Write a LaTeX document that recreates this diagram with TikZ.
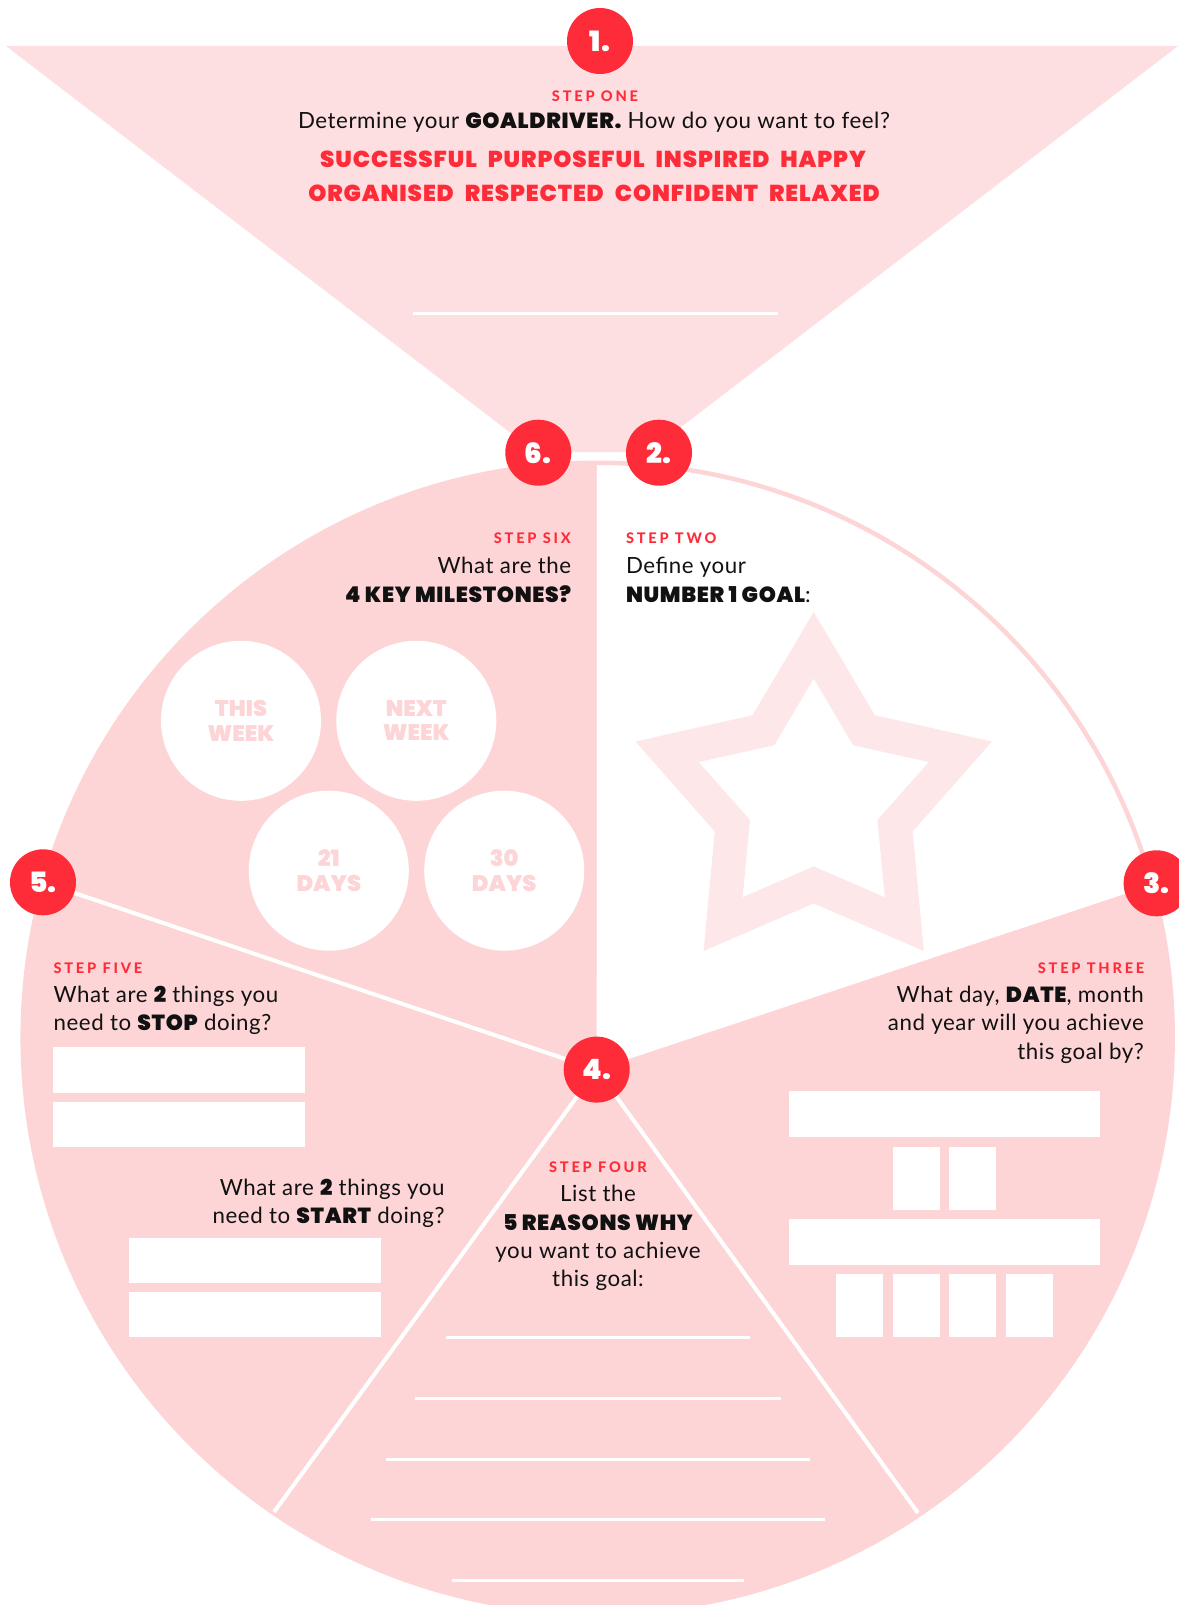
\documentclass[tikz,border=0pt]{standalone}
\usepackage{fontspec}
\setmainfont{Lato}[LetterSpace=2.5]
\IfFontExistsTF{Poppins Black}{\newfontfamily\heavy{Poppins Black}}{\IfFontExistsTF{Lato Black}{\newfontfamily\heavy{Lato Black}}{\newfontfamily\heavy{Lato}[FakeBold=2]}}
\IfFontExistsTF{Lato Heavy}{\newfontfamily\spaced{Lato Heavy}[LetterSpace=19]}{\IfFontExistsTF{Lato Bold}{\newfontfamily\spaced{Lato Bold}[LetterSpace=19]}{\newfontfamily\spaced{Lato}[LetterSpace=19,FakeBold=1]}}
\definecolor{redc}{RGB}{254,44,56}
\definecolor{pinkc}{RGB}{253,213,215}
\definecolor{tric}{RGB}{253,222,225}
\definecolor{starc}{RGB}{253,231,233}
\definecolor{inkc}{RGB}{17,17,17}
\newcommand{\hv}[1]{{\heavy\addfontfeatures{LetterSpace=3}\fontsize{21.8}{28.4}\selectfont #1}}
\begin{document}
\begin{tikzpicture}[x=1pt,y=-1pt,
  steplbl/.style={text=redc, font=\spaced\fontsize{14.6}{16}\selectfont, inner sep=0pt},
  body/.style={text=inkc, font=\fontsize{22.3}{28.4}\selectfont, inner sep=0pt},
  redwords/.style={text=redc, font=\heavy\addfontfeatures{LetterSpace=4}\fontsize{23}{24}\selectfont, inner sep=0pt},
  num/.style={circle, fill=redc, minimum size=66pt, inner sep=0pt, text=white, font=\heavy\fontsize{28}{28}\selectfont},
  mile/.style={circle, fill=white, minimum size=160pt, inner sep=0pt, text=pinkc, font=\heavy\fontsize{22.5}{24.3}\selectfont, align=center},
  wbox/.style={fill=white},
  wline/.style={draw=white, line width=4pt},
  rline/.style={draw=white, line width=3pt},
]
\useasboundingbox (0,0) rectangle (1178,1605);
\fill[white] (0,0) rectangle (1178,1605);

% key points
\coordinate (hub) at (596.7,1069.6);
\coordinate (cc) at (597.7,1037.8);
\coordinate (p1) at (600,41);
\coordinate (p2) at (659,452.7);
\coordinate (p3) at (1156.6,883.3);
\coordinate (p5) at (43,882.3);
\coordinate (p6) at (538.3,452.7);
\coordinate (b4l) at (274,1512);
\coordinate (b4r) at (918,1513);

% step one funnel
\fill[tric] (6,46) -- (1178,46) -- (648.5,452) -- (535.5,452) -- cycle;
\draw[rline] (412.5,313) -- (778,313);

% big circle
\fill[pinkc] (cc) circle[radius=575];
\begin{scope}
  \clip (cc) circle[radius=575];
  \fill[white] (hub) -- (597,380) -- (1250,380) -- (1250,852.2) -- cycle;
\end{scope}
\draw[pinkc, line width=4.5pt] (cc) circle[radius=575];

% star
\fill[starc, even odd rule]
  (813.7,799.4) +(270:187.3) -- +(306:104) -- +(342:187.3) -- +(18:104) -- +(54:187.3)
   -- +(90:104) -- +(126:187.3) -- +(162:104) -- +(198:187.3) -- +(234:104) -- cycle
  (813.7,799.4) +(270:121) -- +(306:67) -- +(342:121) -- +(18:67) -- +(54:121)
   -- +(90:67) -- +(126:121) -- +(162:67) -- +(198:121) -- +(234:67) -- cycle;

% dividers
\draw[wline] (hub) -- (p5);
\draw[wline] (hub) -- (b4l);
\draw[wline] (hub) -- (b4r);

% milestones
\node[mile] (m1) at (241,720.8) {THIS\\WEEK};
\node[mile] (m2) at (416.3,720.8) {NEXT\\WEEK};
\node[mile] (m3) at (328.8,870.7) {21\\DAYS};
\node[mile] (m4) at (504.2,870.7) {30\\DAYS};

% step five boxes
\fill[wbox] (53.4,1047.3) rectangle (304.5,1092.7);
\fill[wbox] (53.4,1102.3) rectangle (304.5,1147.3);
\fill[wbox] (129.3,1238.3) rectangle (380.8,1283.3);
\fill[wbox] (129.3,1292.3) rectangle (380.8,1337.3);

% step three boxes
\fill[wbox] (789,1091) rectangle (1100,1136.7);
\fill[wbox] (893,1147) rectangle (940,1209.7);
\fill[wbox] (949,1147) rectangle (996,1209.7);
\fill[wbox] (789,1219) rectangle (1100,1264.7);
\fill[wbox] (836,1274) rectangle (883,1336.7);
\fill[wbox] (893,1274) rectangle (940,1336.7);
\fill[wbox] (949,1274) rectangle (996,1336.7);
\fill[wbox] (1006,1274) rectangle (1053,1336.7);

% step four lines
\draw[rline] (446,1337.5) -- (750,1337.5);
\draw[rline] (414.5,1398.5) -- (781,1398.5);
\draw[rline] (386,1459) -- (810,1459);
\draw[rline] (371,1519.5) -- (825,1519.5);
\draw[rline] (452,1580) -- (744,1580);

% number badges
\node[num] (n1) at (p1) {1.};
\node[num] (n2) at (p2) {2.};
\node[num] (n3) at (p3) {3.};
\node[num] (n4) at (hub) {4.};
\node[num] (n5) at (p5) {5.};
\node[num] (n6) at (p6) {6.};

% step one text
\node[steplbl, anchor=base] (s1a) at (595,101.7) {STEP ONE};
\node[body, anchor=base] (s1b) at (594,128.3) {Determine your \hv{GOALDRIVER.} How do you want to feel?};
\node[redwords, anchor=base] (s1c) at (593,167.3) {SUCCESSFUL\hspace{11pt}PURPOSEFUL\hspace{11pt}INSPIRED\hspace{11pt}HAPPY};
\node[redwords, anchor=base] (s1d) at (594,202) {ORGANISED\hspace{11pt}RESPECTED\hspace{11pt}CONFIDENT\hspace{11pt}RELAXED};

% step six text
\node[steplbl, anchor=base east] (s6a) at (571,543.9) {STEP SIX};
\node[body, anchor=base east] (s6b) at (571.4,573.6) {What are the};
\node[body, anchor=base east] (s6c) at (571.4,602) {\hv{4 KEY MILESTONES?}};

% step two text
\node[steplbl, anchor=base west] (s2a) at (625.8,543.9) {STEP TWO};
\node[body, anchor=base west] (s2b) at (625.8,573.6) {Define your};
\node[body, anchor=base west] (s2c) at (625.8,602) {\hv{NUMBER 1 GOAL}:};

% step three text
\node[steplbl, anchor=base east] (s3a) at (1144.5,973.3) {STEP THREE};
\node[body, anchor=base east] (s3b) at (1144,1002.7) {What day, \hv{DATE}, month};
\node[body, anchor=base east] (s3c) at (1144,1030.7) {and year will you achieve};
\node[body, anchor=base east] (s3d) at (1144,1059) {this goal by?};

% step five text
\node[steplbl, anchor=base west] (s5a) at (53.4,973.3) {STEP FIVE};
\node[body, anchor=base west] (s5b) at (53.4,1002.7) {What are \hv{2} things you};
\node[body, anchor=base west] (s5c) at (53.4,1030.7) {need to \hv{STOP} doing?};
\node[body, anchor=base east] (s5d) at (444.8,1195) {What are \hv{2} things you};
\node[body, anchor=base east] (s5e) at (444.8,1223.3) {need to \hv{START} doing?};

% step four text
\node[steplbl, anchor=base] (s4a) at (598,1172.3) {STEP FOUR};
\node[body, anchor=base] (s4b) at (598,1201.7) {List the};
\node[body, anchor=base] (s4c) at (598,1230) {\hv{5 REASONS WHY}};
\node[body, anchor=base] (s4d) at (598,1258.3) {you want to achieve};
\node[body, anchor=base] (s4e) at (598,1286.7) {this goal:};
\end{tikzpicture}
\end{document}
